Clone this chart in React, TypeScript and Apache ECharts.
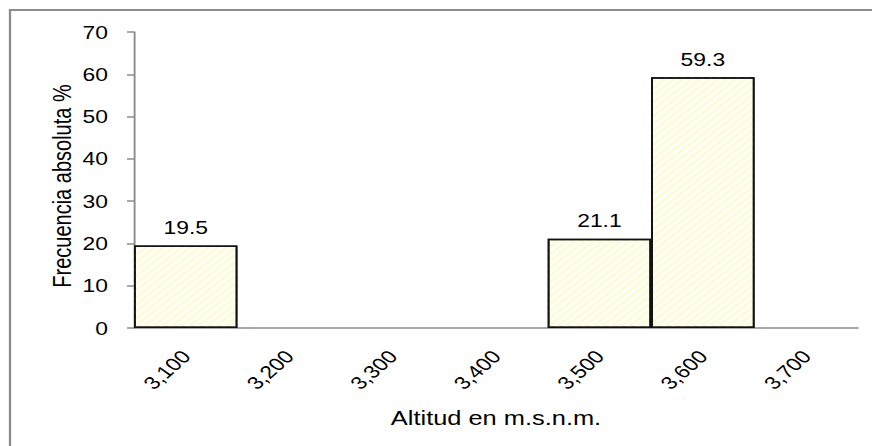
import React, { useEffect, useRef } from "react";
import * as echarts from "echarts";

const categories = ["3,100", "3,200", "3,300", "3,400", "3,500", "3,600", "3,700"];
const values = [19.5, 0, 0, 0, 21.1, 59.3, 0];
const yTicks = { min: 0, max: 70, interval: 10 };
const xTitle = "Altitud en m.s.n.m.";
const yTitle = "Frecuencia absoluta %";

// The reference picture is stretched horizontally; reproduce that with a CSS scale.
const STRETCH = 1.27;
const PAGE_W = 872;
const PAGE_H = 446;

export default function App() {
  const ref = useRef<HTMLDivElement>(null);
  useEffect(() => {
    document.body.style.margin = "0";
    const chart = echarts.init(ref.current!, null, { renderer: "svg" });
    const font = "Liberation Sans, Arial, sans-serif";
    const sx = (x: number) => x / STRETCH;
    chart.setOption({
      animation: false,
      backgroundColor: "#ffffff",
      textStyle: { fontFamily: font },
      grid: { left: sx(134), top: 32, width: sx(724), height: 296, containLabel: false },
      xAxis: {
        type: "category",
        data: categories,
        boundaryGap: true,
        name: xTitle,
        nameLocation: "middle",
        nameGap: 80,
        nameTextStyle: { color: "#000", fontSize: 20, fontFamily: font },
        axisLine: { show: true, lineStyle: { color: "#8c8c8c", width: 1.5 } },
        axisTick: { show: false },
        axisLabel: { rotate: 48, margin: 25, color: "#000", fontSize: 18, fontFamily: font, interval: 0 },
        splitLine: { show: false },
      },
      yAxis: {
        type: "value",
        min: yTicks.min,
        max: yTicks.max,
        interval: yTicks.interval,
        axisLine: { show: true, lineStyle: { color: "#8c8c8c", width: 1.5 } },
        axisTick: { show: true, inside: false, length: sx(7), lineStyle: { color: "#8c8c8c", width: 1.5 } },
        axisLabel: { margin: sx(26), color: "#000", fontSize: 18, fontFamily: font },
        splitLine: { show: false },
      },
      series: [
        {
          type: "bar",
          data: values.map((v) => (v > 0 ? v : null)),
          barCategoryGap: "0%",
          itemStyle: {
            color: "#fffff6",
            borderColor: "#111",
            borderWidth: 1.4,
            decal: {
              symbol: "rect",
              symbolSize: 1,
              dashArrayX: [1, 0],
              dashArrayY: [1.5, 3],
              rotation: -Math.PI / 4,
              color: "rgba(250, 240, 150, 0.35)",
            },
          },
          label: {
            show: true,
            position: "top",
            distance: 9,
            color: "#000",
            fontSize: 18,
            fontFamily: font,
            formatter: (p: any) => Number(p.value).toFixed(1),
          },
        },
      ],
      graphic: [
        {
          type: "rect",
          shape: { x: sx(10), y: 10, width: 900, height: 500 },
          style: { fill: "none", stroke: "#8c8c8c", lineWidth: 1.8 },
          silent: true,
          z: -1,
        },
        {
          type: "text",
          x: sx(62),
          y: 186,
          rotation: Math.PI / 2,
          style: {
            text: yTitle,
            fill: "#000",
            fontSize: 20,
            fontFamily: font,
            align: "center",
            verticalAlign: "middle",
          },
        },
      ],
    });
    return () => chart.dispose();
  }, []);
  return (
    <div style={{ width: PAGE_W, height: PAGE_H, overflow: "hidden" }}>
      <div
        ref={ref}
        style={{
          width: PAGE_W / STRETCH,
          height: PAGE_H,
          transform: `scaleX(${STRETCH})`,
          transformOrigin: "0 0",
        }}
      />
    </div>
  );
}
